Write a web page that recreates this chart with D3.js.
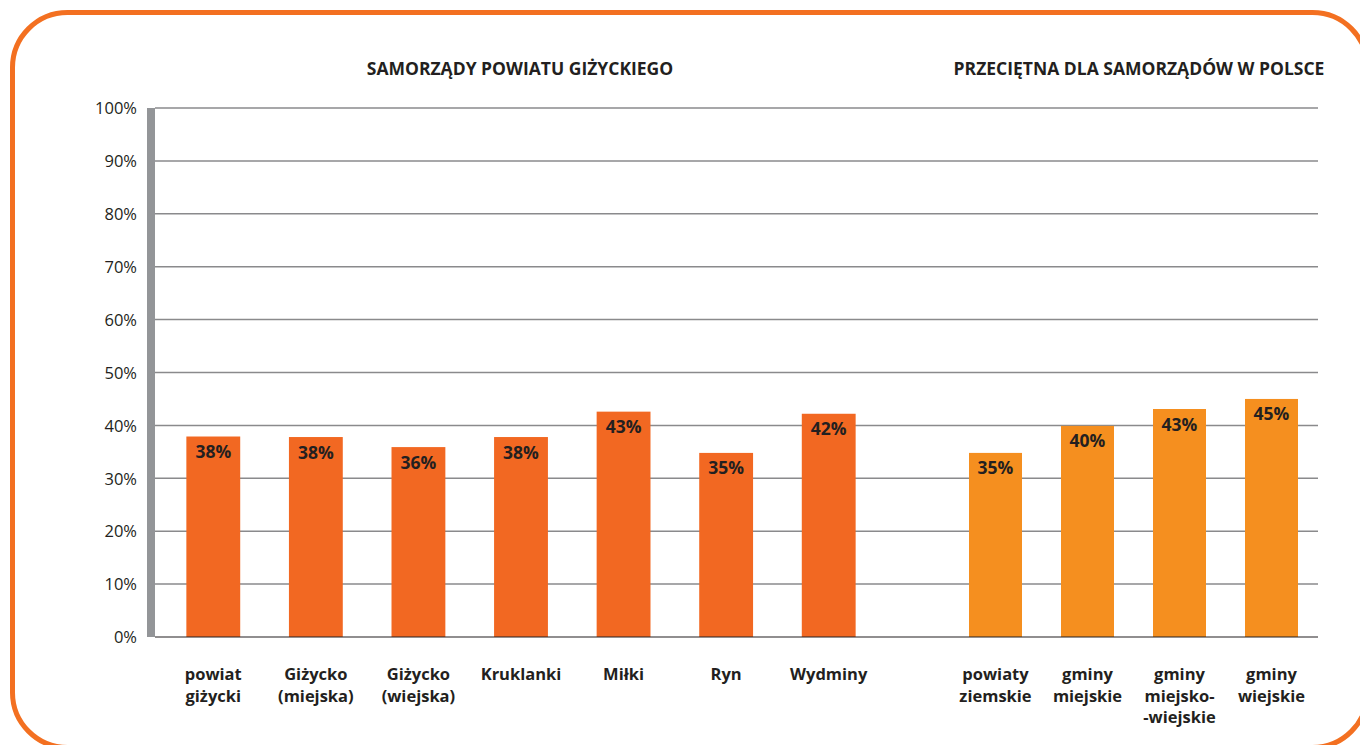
<!DOCTYPE html>
<html>
<head>
<meta charset="utf-8">
<script src="https://cdn.jsdelivr.net/npm/d3@7"></script>
<style>
  html, body { margin: 0; padding: 0; background: #fff; }
  svg { display: block; }
</style>
</head>
<body>
<svg id="chart" width="1360" height="745"></svg>
<script>
// Share of budget (percent) — local governments of Giżycko county
const localNames = [
  ["powiat", "giżycki"],
  ["Giżycko", "(miejska)"],
  ["Giżycko", "(wiejska)"],
  ["Kruklanki"],
  ["Miłki"],
  ["Ryn"],
  ["Wydminy"]
];
const localValues = [37.9, 37.8, 35.9, 37.8, 42.6, 34.8, 42.2];

// National averages by type of local government
const avgNames = [
  ["powiaty", "ziemskie"],
  ["gminy", "miejskie"],
  ["gminy", "miejsko-", "-wiejskie"],
  ["gminy", "wiejskie"]
];
const avgValues = [34.8, 39.9, 43.1, 45.0];

const yTicks = [0, 10, 20, 30, 40, 50, 60, 70, 80, 90, 100];

const titleLocal = "SAMORZĄDY POWIATU GIŻYCKIEGO";
const titleAvg = "PRZECIĘTNA DLA SAMORZĄDÓW W POLSCE";

const svg = d3.select("#chart");
const FONT = "'Open Sans', 'Noto Sans', sans-serif";
const INK = "#231f20";

// rounded frame
svg.append("rect")
  .attr("x", 12.5).attr("y", 12.5)
  .attr("width", 1355).attr("height", 735)
  .attr("rx", 55).attr("ry", 55)
  .attr("fill", "none")
  .attr("stroke", "#f37021")
  .attr("stroke-width", 5);

const plotLeft = 155, plotRight = 1318;
const y = d3.scaleLinear().domain([0, 100]).range([637, 108]);

const xLocal = d3.scaleBand()
  .domain(d3.range(localValues.length))
  .range([162, 880])
  .paddingInner(0.475).paddingOuter(0.2375);

const xAvg = d3.scaleBand()
  .domain(d3.range(avgValues.length))
  .range([949.5, 1317.5])
  .paddingInner(0.424).paddingOuter(0.212);

// gridlines
svg.append("g").selectAll("line")
  .data(yTicks.filter(d => d > 0))
  .join("line")
  .attr("x1", plotLeft).attr("x2", plotRight)
  .attr("y1", d => y(d)).attr("y2", d => y(d))
  .attr("stroke", "#8a8a8c").attr("stroke-width", 1.5);

// y axis labels
const yAxis = d3.axisLeft(y).tickValues(yTicks).tickFormat(d => d + "%").tickSize(0).tickPadding(0);
const gy = svg.append("g").attr("transform", "translate(137,0)").call(yAxis);
gy.select(".domain").remove();
gy.selectAll("text")
  .attr("font-family", FONT).attr("font-size", 16.5).attr("fill", INK)
  .attr("dy", "0.35em");

// thick grey axis band
svg.append("rect")
  .attr("x", 147).attr("y", y(100))
  .attr("width", 8).attr("height", y(0) - y(100))
  .attr("fill", "#939598");

function drawGroup(values, names, x, color) {
  const g = svg.append("g");
  g.selectAll("rect.bar")
    .data(values)
    .join("rect")
    .attr("class", "bar")
    .attr("x", (d, i) => x(i))
    .attr("y", d => y(d))
    .attr("width", x.bandwidth())
    .attr("height", d => y(0) - y(d))
    .attr("fill", color);

  g.selectAll("text.val")
    .data(values)
    .join("text")
    .attr("class", "val")
    .attr("x", (d, i) => x(i) + x.bandwidth() / 2)
    .attr("y", d => y(d) + 21.5)
    .attr("text-anchor", "middle")
    .attr("font-family", FONT).attr("font-weight", 700).attr("font-size", 17.5)
    .attr("fill", INK)
    .text(d => d3.format(".0f")(d) + "%");

  const lab = g.selectAll("text.cat")
    .data(names)
    .join("text")
    .attr("class", "cat")
    .attr("x", (d, i) => x(i) + x.bandwidth() / 2)
    .attr("y", 680)
    .attr("text-anchor", "middle")
    .attr("font-family", FONT).attr("font-weight", 700).attr("font-size", 16.5)
    .attr("fill", INK);
  lab.selectAll("tspan")
    .data((d, i) => d.map(t => ({ t, cx: x(i) + x.bandwidth() / 2 })))
    .join("tspan")
    .attr("x", d => d.cx)
    .attr("dy", (d, j) => j === 0 ? 0 : 21.5)
    .text(d => d.t);
}

drawGroup(localValues, localNames, xLocal, "#f26822");
drawGroup(avgValues, avgNames, xAvg, "#f58f1f");

// baseline
svg.append("line")
  .attr("x1", plotLeft).attr("x2", plotRight)
  .attr("y1", y(0)).attr("y2", y(0))
  .attr("stroke", INK).attr("stroke-width", 1.2);

// group titles
svg.append("text")
  .attr("x", 520).attr("y", 75)
  .attr("text-anchor", "middle")
  .attr("font-family", FONT).attr("font-weight", 700).attr("font-size", 17.5)
  .attr("fill", INK)
  .text(titleLocal);
svg.append("text")
  .attr("x", 1139).attr("y", 75)
  .attr("text-anchor", "middle")
  .attr("font-family", FONT).attr("font-weight", 700).attr("font-size", 17.5)
  .attr("fill", INK)
  .text(titleAvg);
</script>
</body>
</html>
